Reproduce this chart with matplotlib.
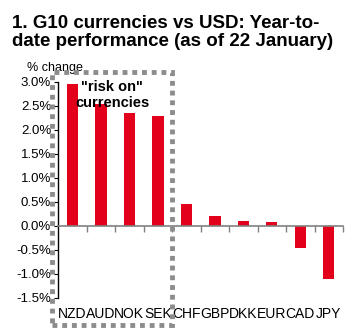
import matplotlib.pyplot as plt
from matplotlib.patches import Rectangle

currencies = ["NZD", "AUD", "NOK", "SEK", "CHF", "GBP", "DKK", "EUR", "CAD", "JPY"]
ytd_change = [2.96, 2.55, 2.36, 2.29, 0.46, 0.20, 0.09, 0.08, -0.47, -1.10]
y_ticks = [-1.5, -1.0, -0.5, 0.0, 0.5, 1.0, 1.5, 2.0, 2.5, 3.0]

plt.rcParams["font.family"] = ["Liberation Sans", "DejaVu Sans"]

fig = plt.figure(figsize=(3.63, 3.36), dpi=100)
ax = fig.add_axes([0.160, 0.114, 0.785, 0.642])

x = list(range(len(currencies)))
ax.bar(x, ytd_change, width=0.4, color="#e2001a", zorder=2)

ax.set_xlim(-0.5, len(currencies) - 0.5)
ax.set_ylim(-1.5, 3.0)
ax.set_yticks(y_ticks)
ax.set_yticklabels([f"{v:.1f}%" for v in y_ticks], fontsize=9.5)
ax.tick_params(axis="y", length=3, width=0.8, pad=2)

# category labels at the bottom, tick marks hang below the zero line
ax.set_xticks(x)
ax.set_xticklabels(currencies, fontsize=8.4)
ax.set_xticks([i + 0.5 for i in x], minor=True)
ax.tick_params(axis="x", which="major", length=0, pad=7, top=False, bottom=True)
ax.tick_params(axis="x", which="minor", top=True, bottom=False, direction="in",
               length=4, width=1.0, color="#808080")

ax.spines["bottom"].set_visible(False)
ax.spines["right"].set_visible(False)
ax.spines["top"].set_position(("data", 0))
ax.spines["top"].set_color("#808080")
ax.spines["top"].set_linewidth(1.2)
ax.spines["top"].set_zorder(3)
ax.spines["left"].set_linewidth(1.0)

fig.text(0.033, 0.955, "1. G10 currencies vs USD: Year-to-\ndate performance (as of 22 January)",
         fontsize=13.5, fontweight="bold", va="top", ha="left", linespacing=1.1)
fig.text(0.075, 0.797, "% change", fontsize=9, va="center", ha="left")

# dotted box around the "risk on" group
box = Rectangle((52 / 363, 1 - 325 / 336), 120 / 363, 253 / 336, transform=fig.transFigure,
                fill=False, edgecolor="#8c8c8c", linewidth=3.5, linestyle=(0, (1, 1)), zorder=5)
fig.patches.append(box)
fig.text(112 / 363, 1 - 95 / 336, "\"risk on\"\ncurrencies", fontsize=10.5, fontweight="bold",
         ha="center", va="center", linespacing=1.25)

fig.savefig("out.png", dpi=100)
